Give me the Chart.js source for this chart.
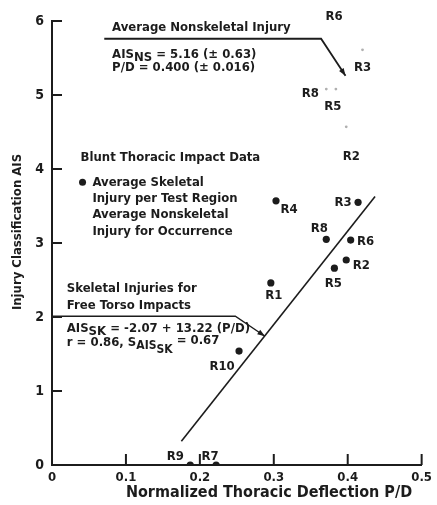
<!DOCTYPE html>
<html>
<head>
<meta charset="utf-8">
<script src="https://cdn.jsdelivr.net/npm/chart.js@4.4.1/dist/chart.umd.min.js"></script>
<style>
  html, body { margin: 0; padding: 0; background: #fff; }
</style>
</head>
<body>
<canvas id="chart" width="437" height="505"></canvas>
<script>
// Values
const skelLabels = ['R1', 'R2', 'R3', 'R4', 'R5', 'R6', 'R7', 'R8', 'R9', 'R10'];
const skelPD  = [0.296, 0.398, 0.414, 0.303, 0.382, 0.404, 0.222, 0.371, 0.187, 0.253];
const skelAIS = [2.46, 2.77, 3.55, 3.57, 2.66, 3.04, 0, 3.05, 0, 1.54];

const nonSkelLabels = ['R2', 'R3', 'R5', 'R6', 'R8'];
const nonSkelPD  = [0.398, 0.420, 0.384, 0.406, 0.371];
const nonSkelAIS = [4.57, 5.61, 5.08, 6.07, 5.08];

// regression line end points
const fitPD  = [0.175, 0.437];
const fitAIS = [0.32, 3.63];

const xTicks = [0, 0.1, 0.2, 0.3, 0.4, 0.5];
const yTicks = [0, 1, 2, 3, 4, 5, 6];

const FONT = "'Liberation Sans Narrow', 'DejaVu Sans Condensed', 'Liberation Sans', sans-serif";
const INK = '#1c1c1c';

// label offsets in px (dx, dy) from each point
const skelLabelPos = {
    R1: [3, 13], R2: [15, 6], R3: [-15, 0], R4: [13, 9], R5: [-1, 15],
    R6: [15, 2], R7: [-6, -8], R8: [-7, -11], R9: [-15, -8], R10: [-17, 16]
};
const nonSkelLabelPos = {
    R2: [5, 30], R3: [0, 18], R5: [-3, 18], R6: [-18, 1], R8: [-16, 5]
};

function toPoints(xs, ys) {
    return xs.map((x, i) => ({ x: x, y: ys[i] }));
}

// draws text pieces; each piece: [text, dy, size]
function rich(ctx, x, y, parts, size) {
    let cx = x;
    parts.forEach(([t, dy, s]) => {
        ctx.font = `bold ${s || size}px ${FONT}`;
        ctx.fillText(t, cx, y + (dy || 0));
        cx += ctx.measureText(t).width;
    });
}

function arrowPath(ctx, pts, head) {
    ctx.beginPath();
    ctx.moveTo(pts[0][0], pts[0][1]);
    for (let i = 1; i < pts.length; i++) ctx.lineTo(pts[i][0], pts[i][1]);
    ctx.stroke();
    const [x1, y1] = pts[pts.length - 2];
    const [x2, y2] = pts[pts.length - 1];
    const a = Math.atan2(y2 - y1, x2 - x1);
    ctx.beginPath();
    ctx.moveTo(x2, y2);
    ctx.lineTo(x2 - head * Math.cos(a - 0.35), y2 - head * Math.sin(a - 0.35));
    ctx.lineTo(x2 - head * Math.cos(a + 0.35), y2 - head * Math.sin(a + 0.35));
    ctx.closePath();
    ctx.fill();
}

const decorations = {
    id: 'decorations',
    afterDraw(chart) {
        const ctx = chart.ctx;
        const xs = chart.scales.x, ys = chart.scales.y;
        const px = v => xs.getPixelForValue(v);
        const py = v => ys.getPixelForValue(v);
        const area = chart.chartArea;

        ctx.save();
        ctx.strokeStyle = INK;
        ctx.fillStyle = INK;

        // inward tick marks
        ctx.lineWidth = 2;
        yTicks.forEach(v => {
            if (v === 0) return;
            ctx.beginPath();
            ctx.moveTo(area.left, py(v));
            ctx.lineTo(area.left + 10, py(v));
            ctx.stroke();
        });
        xTicks.forEach(v => {
            if (v === 0) return;
            ctx.beginPath();
            ctx.moveTo(px(v), area.bottom);
            ctx.lineTo(px(v), area.bottom - 11);
            ctx.stroke();
        });

        // point labels
        ctx.textAlign = 'center';
        ctx.textBaseline = 'middle';
        ctx.font = `bold 13px ${FONT}`;
        skelLabels.forEach((l, i) => {
            const [dx, dy] = skelLabelPos[l];
            ctx.fillText(l, px(skelPD[i]) + dx, py(skelAIS[i]) + dy);
        });
        nonSkelLabels.forEach((l, i) => {
            const [dx, dy] = nonSkelLabelPos[l];
            ctx.fillText(l, px(nonSkelPD[i]) + dx, py(nonSkelAIS[i]) + dy);
        });

        // callout lines
        ctx.lineWidth = 1.8;
        arrowPath(ctx, [[px(0.0707), py(5.76)], [px(0.364), py(5.76)], [px(0.397), py(5.26)]], 8);
        ctx.lineWidth = 1.4;
        arrowPath(ctx, [[px(0), py(2.01)], [px(0.248), py(2.01)], [px(0.288), py(1.74)]], 8);

        // annotation text
        ctx.textAlign = 'left';
        ctx.textBaseline = 'middle';
        rich(ctx, px(0.0813), py(5.905), [['Average Nonskeletal Injury']], 13);
        rich(ctx, px(0.0813), py(5.55), [['AIS'], ['NS', 3, 13], [' = 5.16 (± 0.63)']], 13);
        rich(ctx, px(0.0813), py(5.37), [['P/D = 0.400 (± 0.016)']], 13);

        rich(ctx, px(0.0387), py(4.16), [['Blunt Thoracic Impact Data']], 13);
        ctx.beginPath();
        ctx.arc(px(0.0413), py(3.82), 3.5, 0, Math.PI * 2);
        ctx.fill();
        rich(ctx, px(0.0547), py(3.82), [['Average Skeletal']], 13);
        rich(ctx, px(0.0547), py(3.60), [['Injury per Test Region']], 13);
        rich(ctx, px(0.0547), py(3.38), [['Average Nonskeletal']], 13);
        rich(ctx, px(0.0547), py(3.15), [['Injury for Occurrence']], 13);

        rich(ctx, px(0.02), py(2.38), [['Skeletal Injuries for']], 13);
        rich(ctx, px(0.02), py(2.16), [['Free Torso Impacts']], 13);
        rich(ctx, px(0.02), py(1.84), [['AIS'], ['SK', 3, 13], [' = -2.07 + 13.22 (P/D)']], 13);
        rich(ctx, px(0.02), py(1.65), [['r = 0.86, S'], ['AIS', 3, 12], ['SK', 7, 12], [' = 0.67', -2]], 13);

        // axis titles
        ctx.textAlign = 'center';
        ctx.font = `bold 16px ${FONT}`;
        ctx.fillText('Normalized Thoracic Deflection P/D', 269, 493);
        ctx.save();
        ctx.translate(18, 232);
        ctx.rotate(-Math.PI / 2);
        ctx.font = `bold 13px ${FONT}`;
        ctx.fillText('Injury Classification AIS', 0, 0);
        ctx.restore();

        ctx.restore();
    }
};

new Chart(document.getElementById('chart'), {
    type: 'scatter',
    data: {
        datasets: [
            {
                label: 'Regression',
                data: toPoints(fitPD, fitAIS),
                showLine: true,
                borderColor: INK,
                borderWidth: 1.6,
                pointRadius: 0,
                order: 3
            },
            {
                label: 'Nonskeletal',
                data: toPoints(nonSkelPD, nonSkelAIS),
                backgroundColor: '#b0b0b0',
                borderWidth: 0,
                pointRadius: 1.4,
                order: 2
            },
            {
                label: 'Skeletal',
                data: toPoints(skelPD, skelAIS),
                backgroundColor: INK,
                borderWidth: 0,
                pointRadius: 3.6,
                order: 1
            }
        ]
    },
    options: {
        responsive: false,
        animation: false,
        layout: { padding: { top: 21, right: 10, left: 0, bottom: 0 } },
        plugins: {
            legend: { display: false },
            tooltip: { enabled: false }
        },
        scales: {
            x: {
                type: 'linear',
                min: 0,
                max: 0.5,
                afterBuildTicks: s => { s.ticks = xTicks.map(v => ({ value: v })); },
                afterFit: s => { s.height = 40; },
                ticks: {
                    callback: v => v === 0 ? '0' : v.toFixed(1),
                    font: { family: FONT, size: 13, weight: 'bold' },
                    color: INK,
                    padding: 5,
                    maxRotation: 0,
                    autoSkip: false
                },
                grid: { display: false, drawTicks: false },
                border: { display: true, color: INK, width: 2 }
            },
            y: {
                type: 'linear',
                min: 0,
                max: 6,
                afterBuildTicks: s => { s.ticks = yTicks.map(v => ({ value: v })); },
                afterFit: s => { s.width = 52; },
                ticks: {
                    font: { family: FONT, size: 14, weight: 'bold' },
                    color: INK,
                    padding: 8,
                    autoSkip: false
                },
                grid: { display: false, drawTicks: false },
                border: { display: true, color: INK, width: 2 }
            }
        }
    },
    plugins: [decorations]
});
</script>
</body>
</html>
